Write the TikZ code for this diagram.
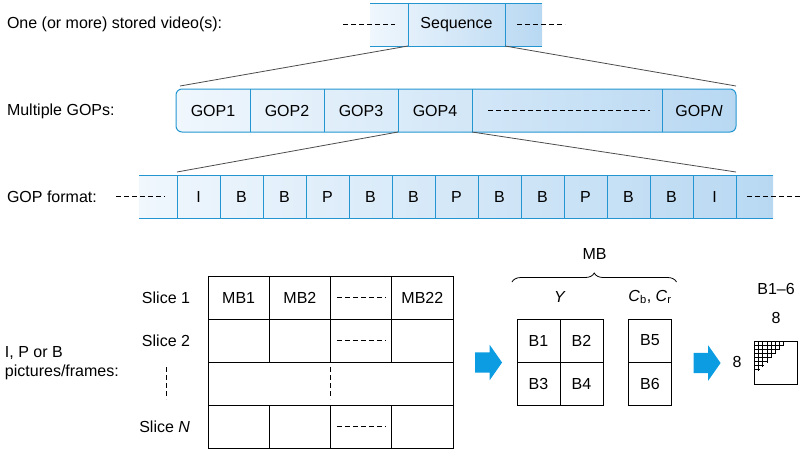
\documentclass[tikz,border=0pt]{standalone}
\usepackage{fontspec}
\setmainfont{Liberation Sans}
\usepackage{tikz}
\usetikzlibrary{positioning, calc, backgrounds, decorations.pathreplacing, shapes.arrows}
\definecolor{lineblue}{RGB}{35,150,210}
\definecolor{paleblue}{RGB}{240,247,253}
\definecolor{deepblue}{RGB}{184,216,242}
\definecolor{arrowblue}{RGB}{12,156,226}
\newcommand{\figfont}{\fontsize{16}{19}\selectfont}

\begin{document}
\begin{tikzpicture}[
    x = 1pt, y = -1pt,
    every node/.style = {font = \figfont, inner sep = 0pt, outer sep = 0pt},
    lbl/.style = {anchor = west},
    seqcell/.style = {minimum height = 43},
    gopcell/.style = {minimum width = 74, minimum height = 43},
    fcell/.style = {minimum width = 43, minimum height = 43},
    tcell/.style = {
      draw, line width = 1pt, minimum width = 61.25, minimum height = 43
    },
    bcell/.style = {draw, line width = 1pt, minimum size = 43},
    blueline/.style = {draw = lineblue, line width = 1pt},
    shade/.style = {left color = paleblue, right color = deepblue},
    fan/.style = {draw = black!70, line width = 0.8pt},
    dashline/.style = {line width = 0.8pt, dash pattern = on 5pt off 3pt},
    bigarrow/.style = {
      single arrow, fill = arrowblue, inner ysep = 10pt, minimum height = 27,
      single arrow head extend = 7.5, single arrow tip angle = 110
    },
    brace/.style = {
      decorate, decoration = {brace, amplitude = 9pt}, line width = 0.8pt
    },
    ]
    \useasboundingbox (0, 0) rectangle (802, 472);

    % draw sequence row
    \node  [lbl]  (lvideo)  at (7, 24.5)  {One (or more) stored video(s):};
    \node  [seqcell, minimum width = 97]  (seq)  at (456.5, 24.5)  {Sequence};
    \node  [seqcell, minimum width = 38]  (seqL)  [left = 0pt of seq]  {};
    \node  [seqcell, minimum width = 37]  (seqR)  [right = 0pt of seq]  {};
    \begin{scope}[on background layer]
      \fill  [shade]  (seqL.north west)  rectangle  (seqR.south east);
    \end{scope}
    \draw  [blueline]  (seqL.north west)  --  (seqR.north east);
    \draw  [blueline]  (seqL.south west)  --  (seqR.south east);
    \draw  [blueline]  (seq.north west)  --  (seq.south west);
    \draw  [blueline]  (seq.north east)  --  (seq.south east);
    \draw  [dashline]  ([xshift = -27]seqL.west)  --  ([xshift = -13]seq.west);
    \draw  [dashline]  ([xshift = 12]seq.east)  --  ([xshift = 23]seqR.east);

    % draw GOP row
    \node  [lbl]  (lgops)  at (7, 111)  {Multiple GOPs:};
    \node  [gopcell]  (gop1)  at (213, 110.5)  {GOP1};
    \foreach \i [remember = \i as \lasti (initially 1)] in {2, ..., 4}
    \node  [gopcell]  (gop\i)  [right = 0pt of gop\lasti]  {GOP\i};
    \node  [gopcell, minimum width = 190]  (gopdots)  [right = 0pt of gop4]  {};
    \node  [gopcell]  (gopN)  [right = 0pt of gopdots]  {GOP\textit{N}};
    \begin{scope}[on background layer]
      \draw  [blueline, shade, rounded corners = 6]  (gop1.north west)  rectangle  (gopN.south east);
    \end{scope}
    \foreach \n in {gop1, gop2, gop3, gop4, gopdots}
    \draw  [blueline]  (\n.north east)  --  (\n.south east);
    \draw  [dashline]  ([xshift = 16]gopdots.west)  --  ([xshift = -12]gopdots.east);

    % draw GOP format row
    \node  [lbl]  (lformat)  at (7, 196.5)  {GOP format:};
    \node  [fcell, minimum width = 38]  (f0)  at (158, 196.5)  {};
    \foreach \t [count = \i, remember = \i as \lasti (initially 0)] in {I, B, B, P, B, B, P, B, B, P, B, B, I}
    \node  [fcell]  (f\i)  [right = 0pt of f\lasti]  {\t};
    \node  [fcell, minimum width = 37]  (f14)  [right = 0pt of f13]  {};
    \begin{scope}[on background layer]
      \fill  [shade]  (f0.north west)  rectangle  (f14.south east);
    \end{scope}
    \draw  [blueline]  (f0.north west)  --  (f14.north east);
    \draw  [blueline]  (f0.south west)  --  (f14.south east);
    \foreach \i in {0, ..., 13}
    \draw  [blueline]  (f\i.north east)  --  (f\i.south east);
    \draw  [dashline]  ([xshift = -23]f0.west)  --  ([xshift = -12]f1.west);
    \draw  [dashline]  ([xshift = 11]f13.east)  --  ([xshift = 29]f14.east);

    % draw fan lines between rows
    \draw  [fan]  (seq.south west)  --  ([shift = {(4, -3)}]gop1.north west);
    \draw  [fan]  (seq.south east)  --  ([shift = {(0, -3)}]gopN.north east);
    \draw  [fan]  (gop4.south west)  --  ([shift = {(0, -3)}]f1.north west);
    \draw  [fan]  (gop4.south east)  --  ([shift = {(0, -3)}]f13.north east);

    % draw slice table
    \node  [lbl, align = left]  (lframes)  at (5, 363)  {I, P or B\\pictures/frames:};
    \foreach \t [count = \c] in {MB1, MB2, , MB22}
    \node  [tcell]  (t1\c)  at ({208 + (\c - 0.5) * 61.25}, 297.5)  {\t};
    \foreach \r in {2, 4}
    \foreach \c in {1, ..., 4}
    \node  [tcell]  (t\r\c)  at ({208 + (\c - 0.5) * 61.25}, {297.5 + (\r - 1) * 43})  {};
    \node  [tcell, minimum width = 245]  (t3)  at (330.5, 383.5)  {};
    \foreach \r in {1, 2, 4}
    \draw  [dashline]  ([xshift = 6.5]t\r3.west)  --  ([xshift = -6.5]t\r3.east);
    \draw  [dashline]  ($(t3.north) + (0, 5)$)  --  ($(t3.south) + (0, -6)$);

    \node  (s1)  [left = 18pt of t11]  {Slice 1};
    \node  (s2)  [left = 18pt of t21]  {Slice 2};
    \node  (sN)  [left = 18pt of t41]  {Slice \textit{N}};
    \draw  [dashline]  ($(t3.north west) + (-42, 5)$)  --  ($(t3.south west) + (-42, -6)$);

    % draw macroblock
    \node  [bigarrow]  (arr1)  at (485, 362.5)  {};
    \node  [bcell]  (b1)  at (538.5, 340.5)  {B1};
    \node  [bcell]  (b2)  [right = 0pt of b1]  {B2};
    \node  [bcell]  (b3)  [below = 0pt of b1]  {B3};
    \node  [bcell]  (b4)  [right = 0pt of b3]  {B4};
    \node  [bcell]  (b5)  at (650, 340.5)  {B5};
    \node  [bcell]  (b6)  [below = 0pt of b5]  {B6};
    \node  (ylum)  at (560, 297)  {\textit{Y}};
    \node  (ychr)  at (650, 297)  {\textit{C}\textsubscript{b}, \textit{C}\textsubscript{r}};
    \draw  [brace]  ([shift = {(-5, -37)}]b1.north west)  --  ([shift = {(5, -37)}]b5.north east);
    \node  (mb)  at (594.5, 254)  {MB};

    % draw 8x8 block
    \node  [bigarrow]  (arr2)  at (703.5, 363)  {};
    \node  [bcell]  (blk)  at (776, 362.5)  {};
    \node  (btop)  at (776, 289)  {B1--6};
    \node  (n8a)  at (776, 318)  {8};
    \node  (n8b)  at (737, 362)  {8};
    \foreach \i in {1, ..., 7} {
      \draw  [line width = 0.5pt]  ($(blk.north west) + (0, \i * 4.1)$)  --  ++({(8 - \i) * 4.1 + 1}, 0);
      \draw  [line width = 0.5pt]  ($(blk.north west) + (\i * 4.1, 0)$)  --  ++(0, {(8 - \i) * 4.1 + 1});
    }

\end{tikzpicture}
\end{document}
